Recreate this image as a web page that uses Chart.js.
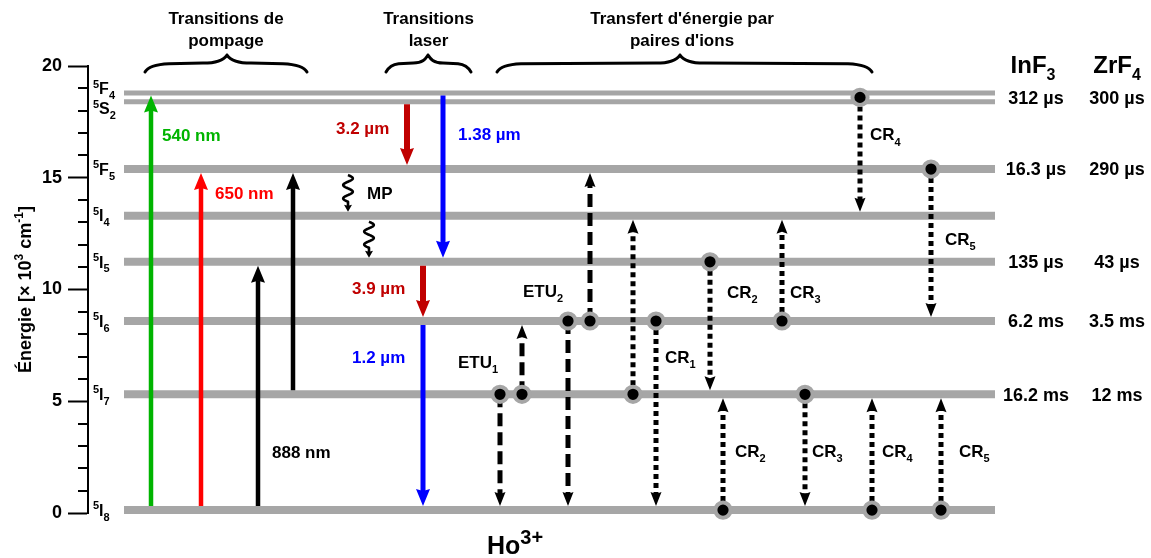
<!DOCTYPE html>
<html><head><meta charset="utf-8">
<script src="https://cdn.jsdelivr.net/npm/chart.js@4.4.1/dist/chart.umd.min.js"></script>
<style>html,body{margin:0;padding:0;background:#fff;}canvas{display:block;}</style>
</head><body>
<canvas id="c" width="1151" height="558"></canvas>
<script>
// ================= DATA =================
// Energy levels of Ho3+ (x10^3 cm^-1)
const levelNames  = ['5I8', '5I7', '5I6', '5I5', '5I4', '5F5', '5S2', '5F4'];
const levelEnergy = [0.13, 5.31, 8.59, 11.24, 13.30, 15.39, 18.40, 18.79];
const yTickLabels = [0, 5, 10, 15, 20];

// Pumping transitions
const pumpLabels = ['540 nm', '650 nm', '888 nm', '888 nm'];
const pumpFrom   = ['5I8', '5I8', '5I8', '5I7'];
const pumpTo     = ['5F4', '5F5', '5I5', '5F5'];
const pumpX      = [151, 201, 258, 293];

// Laser transitions
const laserLabels = ['3.2 µm', '1.38 µm', '3.9 µm', '1.2 µm'];
const laserFrom   = ['5S2', '5F4', '5I5', '5I6'];
const laserTo     = ['5F5', '5I5', '5I6', '5I8'];
const laserX      = [407, 443, 423, 423];

// Multiphonon relaxation
const mpFrom = ['5F5', '5I4'];
const mpTo   = ['5I4', '5I5'];
const mpX    = [348, 369];

// Energy transfer between ion pairs
const transferKind = ['ETU', 'ETU', 'ETU', 'ETU', 'CR', 'CR', 'CR', 'CR', 'CR', 'CR', 'CR', 'CR', 'CR', 'CR'];
const transferFrom = ['5I7', '5I7', '5I6', '5I6', '5I7', '5I6', '5I5', '5I8', '5I6', '5I7', '5F4/5S2', '5I8', '5F5', '5I8'];
const transferTo   = ['5I8', '5I6', '5I8', '5F5', '5I4', '5I8', '5I7', '5I7', '5I4', '5I8', '5I4', '5I7', '5I6', '5I7'];
const transferX    = [500, 522, 568, 590, 633, 656, 710, 723, 782, 805, 860, 872, 931, 941];
const processLabels = ['ETU_{1}', 'ETU_{2}', 'CR_{1}', 'CR_{2}', 'CR_{3}', 'CR_{4}', 'CR_{5}', 'CR_{2}', 'CR_{3}', 'CR_{4}', 'CR_{5}'];

// Lifetimes
const hostNames    = ['InF_{3}', 'ZrF_{4}'];
const lifetimeRows = ['5F4/5S2', '5F5', '5I5', '5I6', '5I7'];
const lifetimeInF3 = ['312 µs', '16.3 µs', '135 µs', '6.2 ms', '16.2 ms'];
const lifetimeZrF4 = ['300 µs', '290 µs', '43 µs', '3.5 ms', '12 ms'];

const headers = [['Transitions de', 'pompage'], ['Transitions', 'laser'], ["Transfert d'énergie par", "paires d'ions"]];
const ionLabel = 'Ho^{3+}';
const axisTitle = 'Énergie [× 10^{3} cm^{-1}]';

// ================= LAYOUT / STYLE =================
const FAM = '"Liberation Sans", Arial, Helvetica, sans-serif';
const font = s => `bold ${s}px ${FAM}`;
const GRAY = '#a6a6a6';
const LEVEL_SPAN = [124, 995];
const thinLevels = ['5F4', '5S2'];
const colorOf = {'540 nm':'#00b400','650 nm':'#ff0000','888 nm':'#000000','3.2 µm':'#c00000','1.38 µm':'#0000ff','3.9 µm':'#c00000','1.2 µm':'#0000ff'};
const L = {
  levelLabelX: 93,
  levelLabelShift: {'5F4': 0.2, '5S2': -0.31},
  pumpLabelAt: [[162, 16.91], [215, 14.32], [272, 2.73], null],
  laserLabelAt: [[336, 17.23], [458, 16.98], [352, 10.07], [352, 6.98]],
  mpLabelAt: [367, 14.32],
  processLabelAt: [[458, 6.76], [523, 9.93], [665, 6.98], [727, 9.89], [790, 9.89], [870, 16.94], [945, 12.26], [735, 2.77], [812, 2.77], [882, 2.77], [959, 2.77]],
  headerX: [226, 428.5, 682],
  headerBase: [21.88, 20.89],
  braces: [[145, 227, 307], [386, 428, 471], [497, 680, 872]],
  braceY: [19.73, 20.13, 20.49],
  hostX: [1033, 1117], hostY: 20.09,
  lifeX: [1036, 1117],
  ionAt: [487, -1.45],
};

const E = n => n.includes('/') ? n.split('/').map(E).reduce((a, b) => a + b) / 2 : levelEnergy[levelNames.indexOf(n)];
const halfT = n => n.includes('/') ? 0 : (thinLevels.includes(n) ? 2.5 : 4);

// ================= DATASETS =================
const datasets = [];
levelNames.forEach((n, i) => datasets.push({
  data: [{x: LEVEL_SPAN[0], y: levelEnergy[i]}, {x: LEVEL_SPAN[1], y: levelEnergy[i]}],
  borderColor: GRAY, borderWidth: thinLevels.includes(n) ? 5 : 8, borderCapStyle: 'butt',
  pointRadius: 0, order: 3, clip: false
}));
function arrow(x, from, to, color, width, dash, head, startGap) {
  datasets.push({
    data: [{x, y: E(from)}, {x, y: E(to)}],
    borderColor: color, borderWidth: width, borderDash: dash, borderCapStyle: 'butt',
    pointRadius: 0, order: 2, clip: false,
    arrow: Object.assign({startGap, endGap: halfT(to)}, head)
  });
}
const bigHead = {w: 14, l: 17, notch: 2};
const smallHead = {w: 11, l: 14, notch: 2};
pumpX.forEach((x, i) => arrow(x, pumpFrom[i], pumpTo[i], colorOf[pumpLabels[i]], 4.5, [], bigHead, halfT(pumpFrom[i])));
laserX.forEach((x, i) => arrow(x, laserFrom[i], laserTo[i], colorOf[laserLabels[i]], laserLabels[i].startsWith('3.') ? 6 : 5, [], bigHead, halfT(laserFrom[i])));
transferX.forEach((x, i) => arrow(x, transferFrom[i], transferTo[i], '#000', 5, transferKind[i] === 'ETU' ? [13, 6] : [5, 4], smallHead, 0));
datasets.push({
  type: 'scatter',
  data: transferX.map((x, i) => ({x, y: E(transferFrom[i])})),
  showLine: false, pointRadius: 7.6, pointBorderWidth: 4,
  pointBackgroundColor: '#000', pointBorderColor: GRAY, order: 0, clip: false
});

// ================= HELPERS =================
function rich(ctx, str, x, yMid, size, color, align, scriptScale) {
  const sc = scriptScale || 0.65;
  const parts = [];
  str.replace(/\^\{([^}]*)\}|_\{([^}]*)\}|([^_^]+)/g, (m, sup, sub, txt) => {
    if (sup !== undefined) parts.push({t: sup, s: Math.round(size * sc), dy: -size * 0.42});
    else if (sub !== undefined) parts.push({t: sub, s: Math.round(size * sc), dy: size * 0.3});
    else parts.push({t: txt, s: size, dy: 0});
    return '';
  });
  let w = 0;
  parts.forEach(p => { ctx.font = font(p.s); w += ctx.measureText(p.t).width; });
  let cx = align === 'center' ? x - w / 2 : align === 'right' ? x - w : x;
  const base = yMid + size * 0.358;
  ctx.fillStyle = color; ctx.textAlign = 'left'; ctx.textBaseline = 'alphabetic';
  parts.forEach(p => { ctx.font = font(p.s); ctx.fillText(p.t, cx, base + p.dy); cx += ctx.measureText(p.t).width; });
}
function brace(ctx, xL, xC, xR, yE, yF, yT) {
  const seg = (xa, s) => {
    const e = Math.min(24, Math.abs(xC - xa) * 0.3), t = Math.min(24, Math.abs(xC - xa) * 0.35);
    ctx.moveTo(xa, yE);
    ctx.quadraticCurveTo(xa + s * 4, yF + 1.5, xa + s * e, yF + 0.6);
    ctx.lineTo(xC - s * t, yF);
    ctx.bezierCurveTo(xC - s * t * 0.3, yF, xC - s * 2, yT + 3, xC, yT);
  };
  ctx.beginPath(); seg(xL, 1); seg(xR, -1);
  ctx.lineWidth = 3; ctx.lineCap = 'round'; ctx.strokeStyle = '#000'; ctx.stroke();
}
function head(ctx, x, y, dir, h, color) {
  ctx.fillStyle = color; ctx.beginPath();
  ctx.moveTo(x, y);
  ctx.lineTo(x - h.w / 2, y - dir * h.l);
  ctx.lineTo(x, y - dir * (h.l - h.notch));
  ctx.lineTo(x + h.w / 2, y - dir * h.l);
  ctx.closePath(); ctx.fill();
}

// ================= PLUGINS =================
const arrowPlugin = {
  id: 'arrowPlugin',
  afterDatasetsUpdate(chart) {
    chart.data.datasets.forEach((ds, i) => {
      if (!ds.arrow) return;
      const pts = chart.getDatasetMeta(i).data;
      const p0 = pts[0], p1 = pts[1];
      const dir = Math.sign(p1.y - p0.y);
      const a = ds.arrow;
      p0.y += dir * a.startGap;
      const tipY = p1.y - dir * a.endGap;
      ds._tip = {x: p1.x, y: tipY, dir};
      p1.y = tipY - dir * (a.l - a.notch - 0.5);
    });
  },
  afterDatasetsDraw(chart) {
    const ctx = chart.ctx;
    ctx.save();
    chart.data.datasets.forEach(ds => {
      if (ds.arrow && ds._tip) head(ctx, ds._tip.x, ds._tip.y, ds._tip.dir, ds.arrow, ds.borderColor);
    });
    ctx.restore();
  }
};

const decorPlugin = {
  id: 'decor',
  afterDraw(chart) {
    const ctx = chart.ctx, xs = chart.scales.x, ys = chart.scales.y;
    const X = v => xs.getPixelForValue(v), Y = v => ys.getPixelForValue(v);
    ctx.save();
    // minor ticks
    ctx.strokeStyle = '#000'; ctx.lineWidth = 2;
    for (let v = ys.min; v <= ys.max; v++) {
      if (yTickLabels.includes(v)) continue;
      const py = Math.round(Y(v));
      ctx.beginPath(); ctx.moveTo(ys.right - 10, py); ctx.lineTo(ys.right, py); ctx.stroke();
    }
    // axis title
    ctx.save();
    ctx.translate(30.5, (ys.top + ys.bottom) / 2);
    ctx.rotate(-Math.PI / 2);
    rich(ctx, axisTitle, 0, -6.4, 18, '#000', 'center');
    ctx.restore();
    // level labels
    levelNames.forEach((n, i) => {
      const lab = '^{' + n[0] + '}' + n[1] + '_{' + n[2] + '}';
      rich(ctx, lab, X(L.levelLabelX), Y(levelEnergy[i] + (L.levelLabelShift[n] || 0)), 16, '#000', 'left', 0.7);
    });
    // pump & laser labels
    pumpLabels.forEach((t, i) => { const p = L.pumpLabelAt[i]; if (p) rich(ctx, t, X(p[0]), Y(p[1]), 17, colorOf[t], 'left'); });
    laserLabels.forEach((t, i) => { const p = L.laserLabelAt[i]; rich(ctx, t, X(p[0]), Y(p[1]), 17, colorOf[t], 'left'); });
    rich(ctx, 'MP', X(L.mpLabelAt[0]), Y(L.mpLabelAt[1]), 17, '#000', 'left');
    processLabels.forEach((t, i) => { const p = L.processLabelAt[i]; rich(ctx, t, X(p[0]), Y(p[1]), 17, '#000', 'left'); });
    // multiphonon squiggles
    mpX.forEach((x, i) => {
      const cx = X(x), yA = Y(E(mpFrom[i])) + halfT(mpFrom[i]) + 2, yB = Y(E(mpTo[i])) - halfT(mpTo[i]);
      const h = {w: 8, l: 7, notch: 1};
      const yW = yB - h.l - 3, len = yW - yA;
      const periods = Math.max(1, Math.round(len / 12 * 2) / 2);
      ctx.beginPath();
      for (let k = 0; k <= 80; k++) {
        const t = k / 80, yy = yA + t * len, xx = cx + 4.8 * Math.sin(2 * Math.PI * periods * t);
        k ? ctx.lineTo(xx, yy) : ctx.moveTo(xx, yy);
      }
      ctx.lineTo(cx, yB - h.l + 1.5);
      ctx.strokeStyle = '#000'; ctx.lineWidth = 2.6; ctx.lineCap = 'butt'; ctx.lineJoin = 'round'; ctx.stroke();
      head(ctx, cx, yB, 1, h, '#000');
    });
    // headers and braces
    headers.forEach((lines, i) => {
      lines.forEach((t, j) => {
        ctx.font = font(17); ctx.fillStyle = '#000'; ctx.textAlign = 'center'; ctx.textBaseline = 'alphabetic';
        ctx.fillText(t, X(L.headerX[i]), Y(L.headerBase[j]));
      });
      const b = L.braces[i];
      brace(ctx, X(b[0]), X(b[1]), X(b[2]), Y(L.braceY[0]), Y(L.braceY[1]), Y(L.braceY[2]));
    });
    // hosts and lifetimes
    hostNames.forEach((h, i) => rich(ctx, h, X(L.hostX[i]), Y(L.hostY), 24, '#000', 'center'));
    lifetimeRows.forEach((r, i) => {
      rich(ctx, lifetimeInF3[i], X(L.lifeX[0]), Y(E(r)), 18, '#000', 'center');
      rich(ctx, lifetimeZrF4[i], X(L.lifeX[1]), Y(E(r)), 18, '#000', 'center');
    });
    // ion label
    rich(ctx, ionLabel, X(L.ionAt[0]), Y(L.ionAt[1]), 25, '#000', 'left', 0.8);
    ctx.restore();
  }
};

// ================= CHART =================
new Chart(document.getElementById('c'), {
  type: 'line',
  data: {datasets},
  options: {
    responsive: false, animation: false, devicePixelRatio: 1, events: [],
    layout: {padding: {top: 66, bottom: 45, left: 0, right: 156}},
    plugins: {legend: {display: false}, tooltip: {enabled: false}},
    scales: {
      x: {type: 'linear', display: false, min: 88, max: 995},
      y: {
        type: 'linear', min: 0, max: 20,
        afterFit(s) { s.width = 88; },
        ticks: {stepSize: 1, autoSkip: false, padding: 6, color: '#000',
          font: {family: FAM, weight: 'bold', size: 18},
          callback: v => yTickLabels.includes(v) ? String(v) : ''},
        grid: {drawOnChartArea: false, drawTicks: true, tickLength: 20, tickWidth: 2,
          tickColor: c => (c.tick && yTickLabels.includes(c.tick.value)) ? '#000' : 'rgba(0,0,0,0)'},
        border: {display: true, color: '#000', width: 2}
      }
    }
  },
  plugins: [arrowPlugin, decorPlugin]
});
</script>
</body></html>
